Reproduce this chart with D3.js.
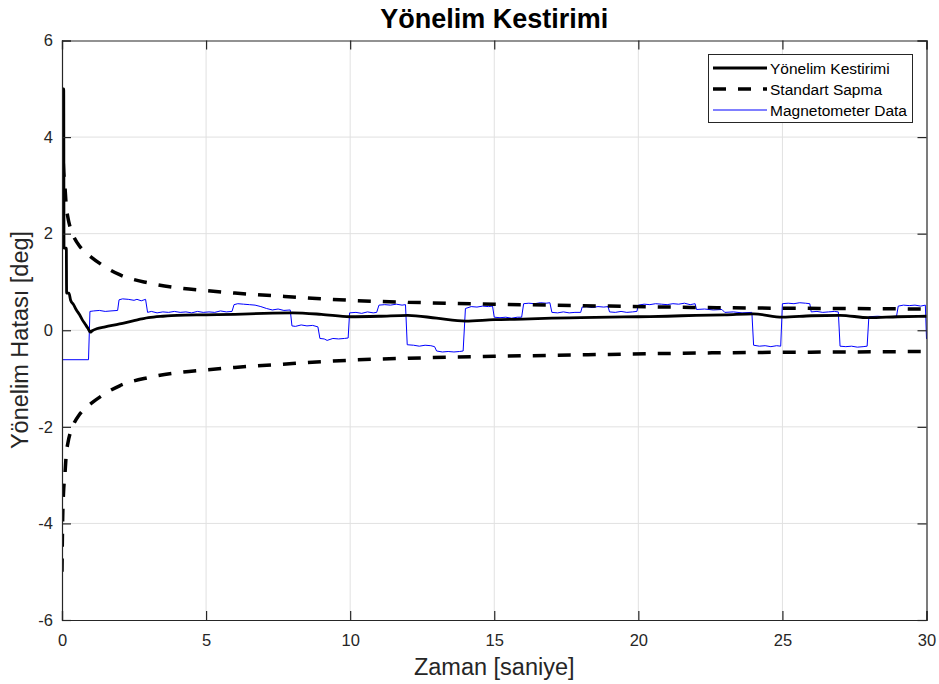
<!DOCTYPE html>
<html>
<head>
<meta charset="utf-8">
<script src="https://cdn.jsdelivr.net/npm/d3@7/dist/d3.min.js"></script>
<style>
  html, body { margin: 0; padding: 0; background: #fff; }
  svg { display: block; font-family: "Liberation Sans", Arial, Helvetica, sans-serif; }
</style>
</head>
<body>
<svg id="chart" width="939" height="684"></svg>
<script>
// Tick values
const xTicks = [0, 5, 10, 15, 20, 25, 30];
const yTicks = [-6, -4, -2, 0, 2, 4, 6];

// Standard deviation envelope (deg) over time (s)
const sigmaT = [0, 0.02, 0.05, 0.1, 0.15, 0.2, 0.3, 0.4, 0.6, 0.8, 1.0, 1.5, 2, 3, 4, 5, 6, 8, 10, 12, 15, 18, 21, 24, 27, 30];
const sigmaV = [5.0, 4.0, 3.4, 3.0, 2.55, 2.35, 2.1, 1.95, 1.75, 1.62, 1.52, 1.31, 1.15, 0.98, 0.88, 0.82, 0.77, 0.69, 0.62, 0.58, 0.54, 0.51, 0.48, 0.46, 0.45, 0.44];

// Heading estimate error (deg)
const estT = [0, 0.06, 0.07, 0.15, 0.16, 0.24, 0.3, 0.4, 0.5, 0.6, 0.7, 0.8, 0.9, 0.98, 1.05, 1.2, 1.5, 2.0, 2.5, 3.0, 3.5, 4.0, 5.0, 6.0, 7.0, 8.0, 9.0, 10.0, 11.0, 12.0, 13.0, 14.0, 15.0, 16.0, 17.0, 18.0, 19.0, 20.0, 21.0, 22.0, 23.0, 24.0, 25.0, 26.0, 27.0, 28.0, 29.0, 30.0];
const estV = [5.0, 5.0, 1.7, 1.7, 0.77, 0.77, 0.62, 0.53, 0.42, 0.33, 0.22, 0.13, 0.04, -0.04, -0.01, 0.03, 0.07, 0.13, 0.2, 0.26, 0.29, 0.31, 0.32, 0.33, 0.35, 0.36, 0.33, 0.28, 0.29, 0.31, 0.25, 0.19, 0.22, 0.23, 0.25, 0.26, 0.27, 0.28, 0.29, 0.31, 0.32, 0.34, 0.27, 0.30, 0.31, 0.26, 0.28, 0.29];

// Magnetometer heading error (deg)
const magT = [0, 0.92, 0.97, 1.1, 1.3, 1.5, 1.7, 1.93, 1.98, 2.1, 2.3, 2.5, 2.6, 2.75, 2.9, 2.97,
  3.1, 3.3, 3.5, 3.7, 3.9, 4.1, 4.3, 4.5, 4.7, 4.9, 5.1, 5.3, 5.5, 5.7, 5.9,
  5.97, 6.1, 6.3, 6.5, 6.7, 6.9, 7.1, 7.3, 7.5, 7.7, 7.92,
  7.98, 8.1, 8.3, 8.5, 8.7, 8.88,
  8.95, 9.1, 9.2, 9.4, 9.6, 9.8, 9.93,
  9.98, 10.2, 10.4, 10.6, 10.8, 10.92,
  11.0, 11.2, 11.4, 11.6, 11.8, 11.92,
  11.98, 12.2, 12.4, 12.6, 12.8, 12.93,
  13.0, 13.2, 13.4, 13.6, 13.8, 13.92,
  14.0, 14.2, 14.4, 14.6, 14.8, 14.94,
  15.0, 15.2, 15.4, 15.6, 15.8, 15.95,
  16.02, 16.2, 16.4, 16.6, 16.8, 16.93,
  17.0, 17.2, 17.4, 17.6, 17.8, 18.0,
  18.05, 18.2, 18.4, 18.6, 18.8, 18.95,
  19.0, 19.2, 19.4, 19.6, 19.8, 19.95,
  20.0, 20.2, 20.4, 20.6, 20.8, 21.0, 21.2, 21.4, 21.6, 21.8, 21.97,
  22.02, 22.3, 22.6, 22.9,
  23.0, 23.3, 23.6, 23.94,
  24.0, 24.2, 24.4, 24.6, 24.8, 24.94,
  25.0, 25.2, 25.4, 25.6, 25.8, 25.95,
  26.0, 26.2, 26.4, 26.6, 26.8, 26.94,
  27.0, 27.2, 27.4, 27.6, 27.8, 27.94,
  28.0, 28.3, 28.6, 28.96,
  29.02, 29.2, 29.4, 29.6, 29.8, 29.96,
  30.0];
const magV = [-0.61, -0.61, 0.39, 0.40, 0.41, 0.39, 0.40, 0.41, 0.63, 0.65, 0.64, 0.62, 0.64, 0.61, 0.64, 0.37,
  0.39, 0.36, 0.38, 0.37, 0.39, 0.37, 0.38, 0.36, 0.39, 0.37, 0.38, 0.37, 0.40, 0.38, 0.39,
  0.53, 0.55, 0.54, 0.53, 0.52, 0.49, 0.45, 0.42, 0.44, 0.41, 0.42,
  0.09, 0.08, 0.11, 0.09, 0.10, 0.07,
  -0.17, -0.18, -0.21, -0.17, -0.18, -0.17, -0.16,
  0.36, 0.37, 0.35, 0.38, 0.36, 0.37,
  0.52, 0.53, 0.52, 0.54, 0.52, 0.53,
  -0.30, -0.31, -0.33, -0.31, -0.32, -0.34,
  -0.43, -0.45, -0.44, -0.45, -0.44, -0.43,
  0.45, 0.49, 0.48, 0.50, 0.49, 0.50,
  0.27, 0.26, 0.27, 0.25, 0.27, 0.27,
  0.55, 0.56, 0.55, 0.57, 0.56, 0.57,
  0.37, 0.36, 0.38, 0.36, 0.37, 0.37,
  0.48, 0.49, 0.47, 0.49, 0.48, 0.49,
  0.38, 0.37, 0.39, 0.37, 0.38, 0.39,
  0.52, 0.54, 0.53, 0.55, 0.54, 0.53, 0.55, 0.54, 0.56, 0.53, 0.55,
  0.43, 0.44, 0.42, 0.43,
  0.37, 0.38, 0.36, 0.37,
  -0.31, -0.33, -0.32, -0.34, -0.32, -0.33,
  0.55, 0.56, 0.55, 0.57, 0.56, 0.55,
  0.38, 0.39, 0.37, 0.38, 0.39, 0.38,
  -0.33, -0.34, -0.33, -0.35, -0.34, -0.33,
  0.28, 0.29, 0.28, 0.29,
  0.50, 0.52, 0.51, 0.52, 0.50, 0.52,
  -0.18];

const legendLabels = ["Yönelim Kestirimi", "Standart Sapma", "Magnetometer Data"];

const svg = d3.select("#chart");
const L = 62, R = 926.5, T = 40.5, B = 620;
const x = d3.scaleLinear().domain([0, 30]).range([L, R]);
const y = d3.scaleLinear().domain([-6, 6]).range([B, T]);
const axisColor = "#262626";

// background grid
const grid = svg.append("g");
grid.selectAll("line.gx").data(xTicks.slice(1, -1)).join("line")
  .attr("x1", d => x(d)).attr("x2", d => x(d)).attr("y1", T).attr("y2", B)
  .attr("stroke", "#e1e1e1").attr("stroke-width", 1);
grid.selectAll("line.gy").data(yTicks.slice(1, -1)).join("line")
  .attr("x1", L).attr("x2", R).attr("y1", d => y(d)).attr("y2", d => y(d))
  .attr("stroke", "#e1e1e1").attr("stroke-width", 1);

// clip to plot area
svg.append("defs").append("clipPath").attr("id", "plotClip")
  .append("rect").attr("x", L).attr("y", T - 2).attr("width", R - L + 1).attr("height", B - T + 4);
const plot = svg.append("g").attr("clip-path", "url(#plotClip)");

const line = d3.line().x(d => x(d[0])).y(d => y(d[1]));
const smooth = d3.line().x(d => x(d[0])).y(d => y(d[1])).curve(d3.curveMonotoneX);

// magnetometer
plot.append("path")
  .datum(magT.map((t, i) => [t, magV[i]]))
  .attr("d", line).attr("fill", "none").attr("stroke", "#0000ff").attr("stroke-width", 1);

// standard deviation bounds
const dash = "13 12";
plot.append("path")
  .datum(sigmaT.map((t, i) => [t, sigmaV[i]]))
  .attr("d", smooth).attr("fill", "none").attr("stroke", "#000").attr("stroke-width", 3.5)
  .attr("stroke-dasharray", dash);
plot.append("path")
  .datum(sigmaT.map((t, i) => [t, -sigmaV[i]]))
  .attr("d", smooth).attr("fill", "none").attr("stroke", "#000").attr("stroke-width", 3.5)
  .attr("stroke-dasharray", dash);

// estimate
plot.append("path")
  .datum(estT.map((t, i) => [t, estV[i]]))
  .attr("d", smooth).attr("fill", "none").attr("stroke", "#000").attr("stroke-width", 2.8)
  .attr("stroke-linejoin", "round");

// axes (ticks inward on all four sides); plain hyphen for negatives
const tickLen = 9;
const fmt = d => String(d);
const xb = svg.append("g").attr("transform", `translate(0,${B})`)
  .call(d3.axisBottom(x).tickValues(xTicks).tickSize(-tickLen).tickPadding(14).tickFormat(fmt));
const xt = svg.append("g").attr("transform", `translate(0,${T})`)
  .call(d3.axisTop(x).tickValues(xTicks).tickSize(-tickLen).tickFormat(""));
const yl = svg.append("g").attr("transform", `translate(${L},0)`)
  .call(d3.axisLeft(y).tickValues(yTicks).tickSize(-tickLen).tickPadding(9).tickFormat(fmt));
const yr = svg.append("g").attr("transform", `translate(${R},0)`)
  .call(d3.axisRight(y).tickValues(yTicks).tickSize(-tickLen).tickFormat(""));
[xb, xt, yl, yr].forEach(g => {
  g.select(".domain").attr("stroke", axisColor).attr("stroke-width", 1.2);
  g.selectAll(".tick line").attr("stroke", axisColor).attr("stroke-width", 1.2);
  g.selectAll(".tick text").attr("fill", axisColor).attr("font-size", 16.5)
    .attr("font-family", "Liberation Sans, Arial, sans-serif");
});

// title and axis labels
svg.append("text").attr("x", (L + R) / 2).attr("y", 28).attr("text-anchor", "middle")
  .attr("font-size", 27).attr("font-weight", "bold").attr("fill", "#000")
  .text("Yönelim Kestirimi");
svg.append("text").attr("x", (L + R) / 2).attr("y", 675).attr("text-anchor", "middle")
  .attr("font-size", 23.5).attr("fill", axisColor).text("Zaman [saniye]");
svg.append("text").attr("transform", `translate(28,340) rotate(-90)`)
  .attr("text-anchor", "middle").attr("font-size", 23.5).attr("fill", axisColor)
  .text("Yönelim Hatası [deg]");

// legend
const lg = svg.append("g");
lg.append("rect").attr("x", 708.5).attr("y", 54.5).attr("width", 204).attr("height", 68)
  .attr("fill", "#fff").attr("stroke", axisColor).attr("stroke-width", 1);
const styles = [
  { stroke: "#000", width: 2.8, dash: null },
  { stroke: "#000", width: 3.5, dash: dash },
  { stroke: "#0000ff", width: 1, dash: null }
];
legendLabels.forEach((lab, i) => {
  const cy = 68 + i * 21;
  lg.append("line").attr("x1", 713).attr("x2", 767).attr("y1", cy).attr("y2", cy)
    .attr("stroke", styles[i].stroke).attr("stroke-width", styles[i].width)
    .attr("stroke-dasharray", styles[i].dash);
  lg.append("text").attr("x", 770).attr("y", cy + 5.5).attr("font-size", 15.5)
    .attr("fill", "#000").text(lab);
});
</script>
</body>
</html>
